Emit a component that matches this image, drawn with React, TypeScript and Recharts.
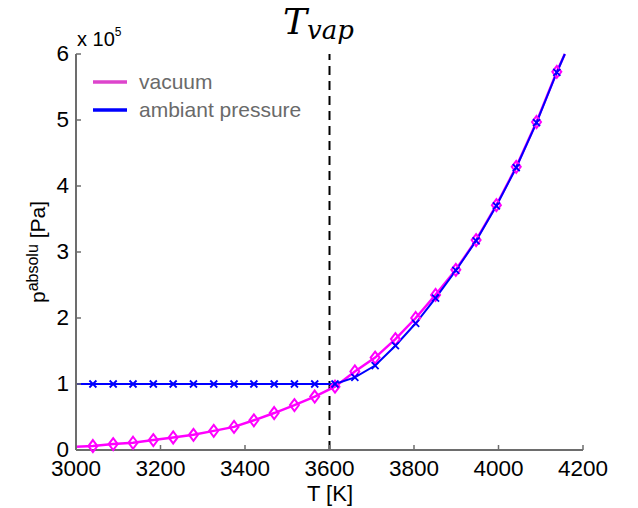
import React from 'react';
import { LineChart, Line, XAxis, YAxis, ReferenceLine } from 'recharts';

// temperature [K] and absolute pressure [x 1e5 Pa]
const temps = [3000, 3040, 3088, 3135, 3183, 3230, 3278, 3326, 3374, 3421, 3469, 3517, 3565, 3613, 3660, 3708, 3756, 3804, 3851, 3899, 3947, 3995, 4042, 4090, 4138, 4157];
const vacuum = [0.05, 0.06, 0.09, 0.11, 0.15, 0.19, 0.23, 0.29, 0.35, 0.45, 0.56, 0.68, 0.81, 0.96, 1.19, 1.4, 1.68, 2.0, 2.35, 2.73, 3.18, 3.71, 4.29, 4.97, 5.73, 6.0];
const ambient = [1, 1, 1, 1, 1, 1, 1, 1, 1, 1, 1, 1, 1, 1.0, 1.1, 1.28, 1.58, 1.92, 2.3, 2.72, 3.17, 3.7, 4.28, 4.96, 5.72, 6.0];

const xTicks = [3000, 3200, 3400, 3600, 3800, 4000, 4200];
const yTicks = [0, 1, 2, 3, 4, 5, 6];
const T_VAP = 3600;

const data = temps.map((T, i) => ({ T, vacuum: vacuum[i], ambient: ambient[i] }));

const FONT = '"Liberation Sans", Arial, sans-serif';
const AXIS = '#6d6d6d';
const MAGENTA = '#ff00ff';
const BLUE = '#0000ff';

const XTick = ({ x, y, payload }: any) => (
  <g>
    <line x1={x} y1={y} x2={x} y2={y - 5} stroke={AXIS} strokeWidth={1.5} />
    <text x={x} y={y + 26} textAnchor="middle" fontSize={22.5} fontFamily={FONT} fill="#000">
      {payload.value}
    </text>
  </g>
);

const YTick = ({ x, y, payload }: any) => (
  <g>
    <line x1={x} y1={y} x2={x + 5} y2={y} stroke={AXIS} strokeWidth={1.5} />
    <text x={x - 7} y={y + 7} textAnchor="end" fontSize={22.5} fontFamily={FONT} fill="#000">
      {payload.value}
    </text>
  </g>
);

const isEnd = (i: number) => i === 0 || i === data.length - 1;

const Diamond = ({ cx, cy, index }: any) => {
  if (isEnd(index)) return <g key={index} />;
  return (
    <path
      key={index}
      d={`M${cx},${cy - 6} L${cx + 4.5},${cy} L${cx},${cy + 6} L${cx - 4.5},${cy} Z`}
      fill="none"
      stroke={MAGENTA}
      strokeWidth={2}
    />
  );
};

const Cross = ({ cx, cy, index }: any) => {
  if (isEnd(index)) return <g key={index} />;
  const s = 3.5;
  return (
    <path
      key={index}
      d={`M${cx - s},${cy - s} L${cx + s},${cy + s} M${cx - s},${cy + s} L${cx + s},${cy - s}`}
      stroke={BLUE}
      strokeWidth={1.8}
    />
  );
};

export default function App() {
  return (
    <div style={{ position: 'absolute', left: 0, top: 0, width: 638, height: 508, background: '#fff' }}>
      <LineChart width={638} height={508} data={data} margin={{ top: 54, right: 55, left: 0, bottom: 0 }}>
        <XAxis
          dataKey="T"
          type="number"
          domain={[3000, 4200]}
          ticks={xTicks}
          interval={0}
          height={58}
          tickSize={0}
          tickMargin={0}
          tick={<XTick />}
          axisLine={{ stroke: AXIS, strokeWidth: 2 }}
          tickLine={false}
        />
        <YAxis
          type="number"
          domain={[0, 6]}
          ticks={yTicks}
          interval={0}
          width={76}
          tickSize={0}
          tickMargin={0}
          tick={<YTick />}
          axisLine={{ stroke: AXIS, strokeWidth: 2 }}
          tickLine={false}
        />
        <ReferenceLine x={T_VAP} stroke="#000" strokeWidth={2} strokeDasharray="9 6" />
        <Line
          type="linear"
          dataKey="vacuum"
          stroke={MAGENTA}
          strokeWidth={2.5}
          dot={Diamond}
          activeDot={false}
          isAnimationActive={false}
        />
        <Line
          type="linear"
          dataKey="ambient"
          stroke={BLUE}
          strokeWidth={2}
          dot={Cross}
          activeDot={false}
          isAnimationActive={false}
        />
      </LineChart>

      <svg
        width={638}
        height={508}
        style={{ position: 'absolute', left: 0, top: 0, pointerEvents: 'none' }}
      >
        {/* title */}
        <text x={283} y={34} fontFamily='"DejaVu Serif", serif' fontStyle="italic" fill="#000">
          <tspan fontSize={36}>T</tspan>
          <tspan fontSize={26} dy={5}>vap</tspan>
        </text>

        {/* exponent */}
        <text x={77} y={46} fontFamily={FONT} fill="#000">
          <tspan fontSize={20}>x 10</tspan>
          <tspan fontSize={12} dy={-10}>5</tspan>
        </text>

        {/* legend */}
        <line x1={93} y1={82} x2={127} y2={82} stroke="#dd44cc" strokeWidth={3.5} />
        <text x={139} y={89} fontSize={21} fontFamily={FONT} fill="#6a6a6a">vacuum</text>
        <line x1={93} y1={110} x2={127} y2={110} stroke={BLUE} strokeWidth={3.5} />
        <text x={139} y={117} fontSize={21} fontFamily={FONT} fill="#6a6a6a">ambiant pressure</text>

        {/* axis labels */}
        <text x={330} y={501} textAnchor="middle" fontSize={22} fontFamily={FONT} fill="#000">T [K]</text>
        <text
          transform="translate(45,252) rotate(-90)"
          textAnchor="middle"
          fontFamily={FONT}
          fill="#000"
        >
          <tspan fontSize={21}>p</tspan>
          <tspan fontSize={16} dy={-7}>absolu</tspan>
          <tspan fontSize={21} dy={7}> [Pa]</tspan>
        </text>
      </svg>
    </div>
  );
}
